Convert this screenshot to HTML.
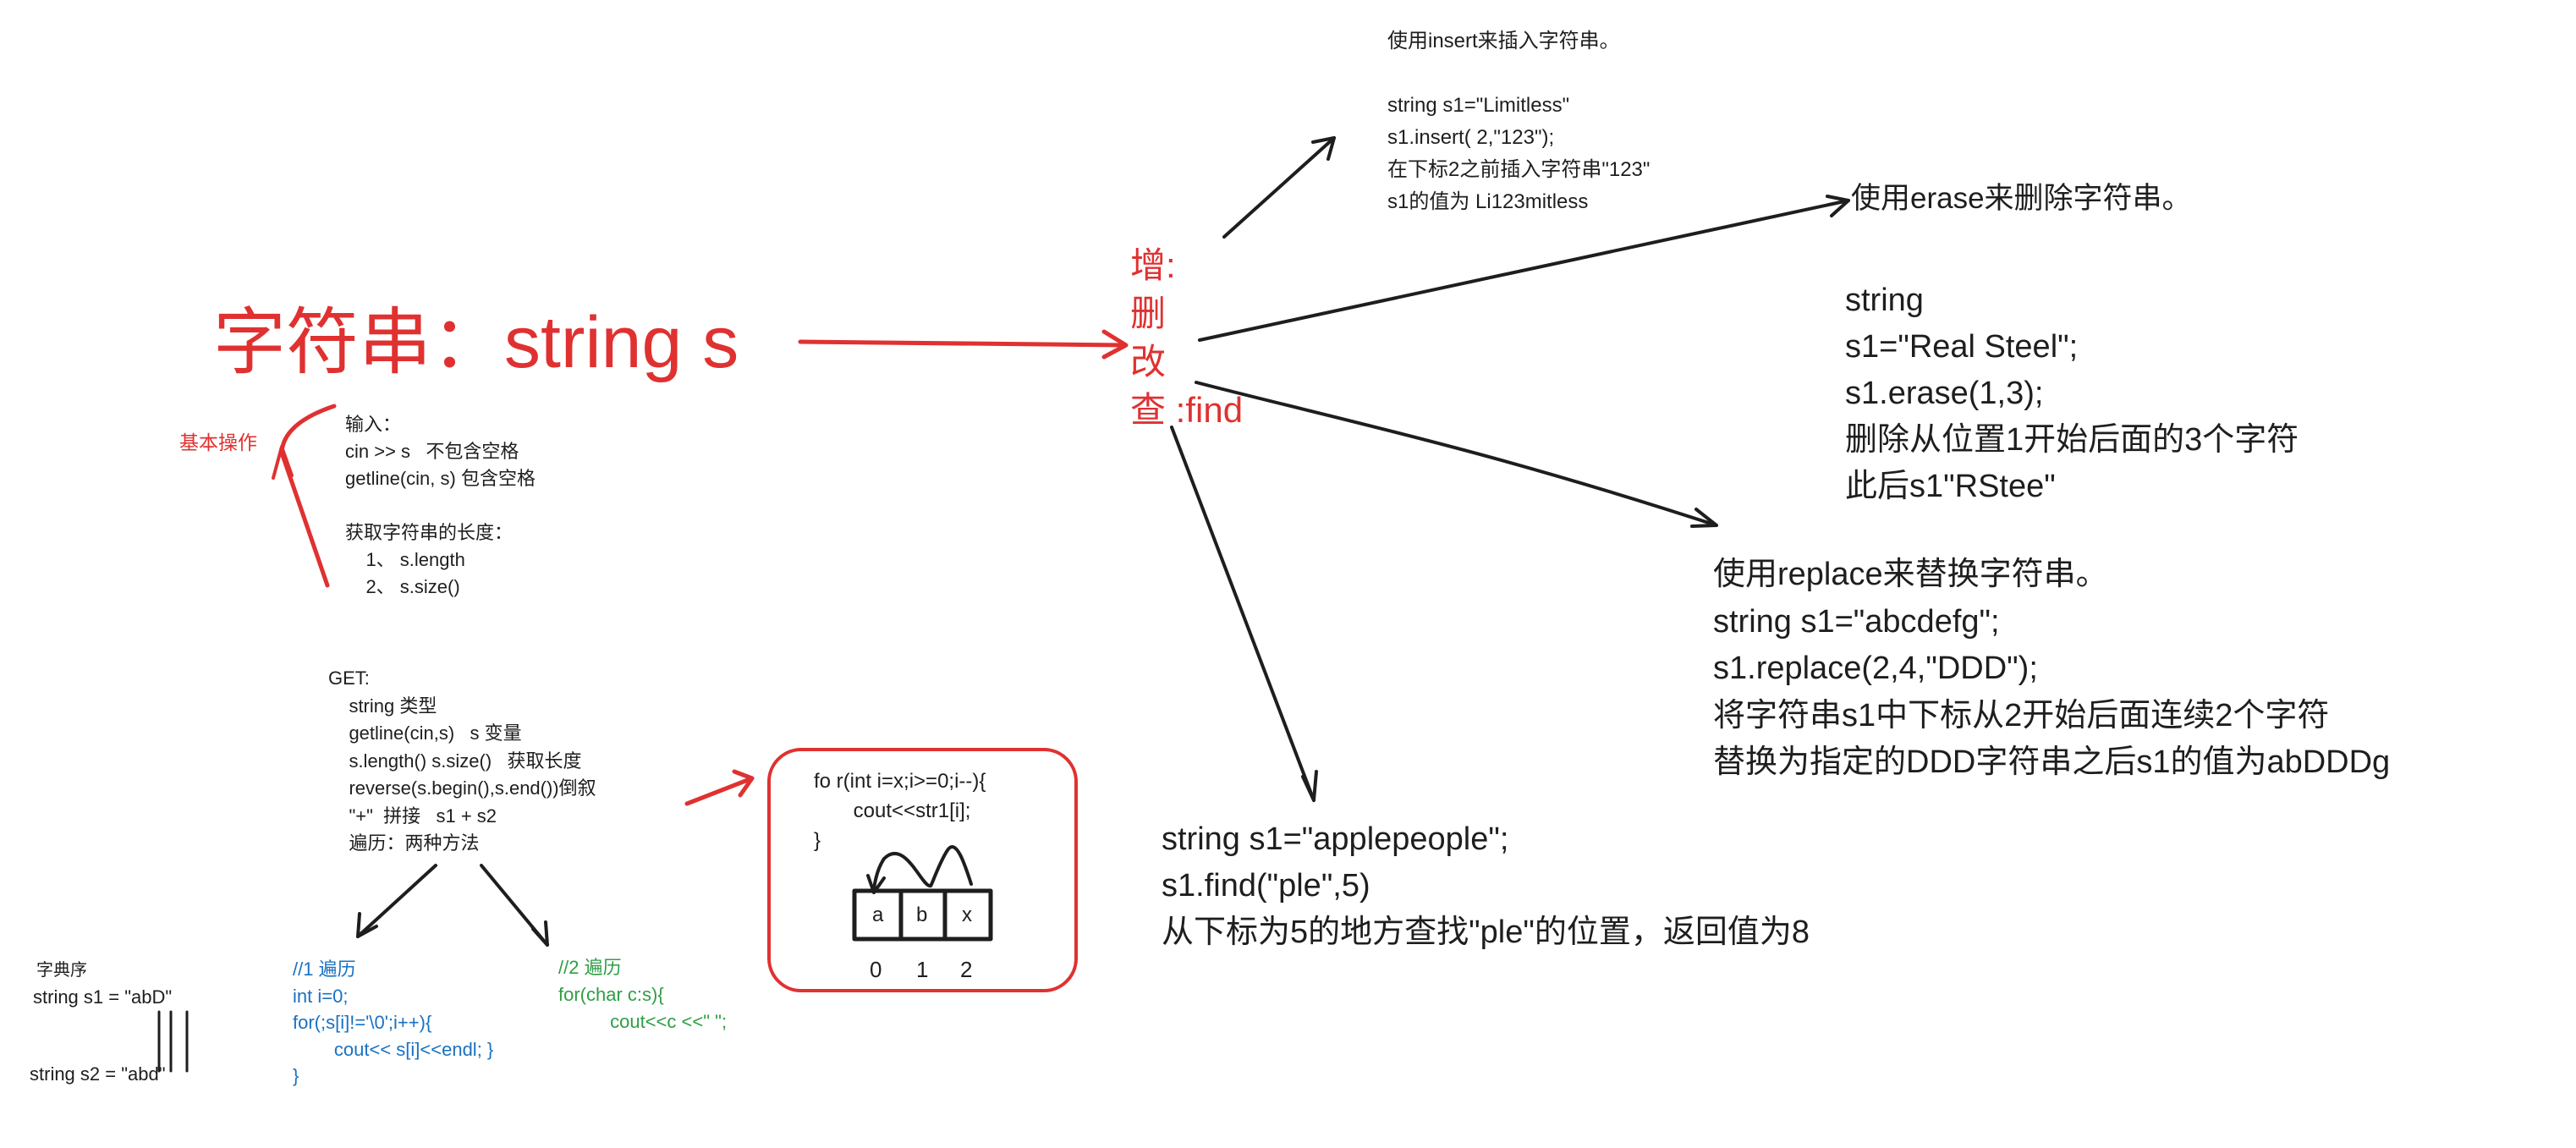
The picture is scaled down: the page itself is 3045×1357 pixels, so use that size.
<!DOCTYPE html>
<html><head><meta charset="utf-8"><style>
html,body{margin:0;padding:0;background:#fff;}
body{width:3045px;height:1357px;position:relative;overflow:hidden;font-family:"Liberation Sans","Noto Sans CJK SC",sans-serif;color:#1e1e1e;}
.t{position:absolute;white-space:pre;line-height:1;}
.r{color:#e03131;}.b{color:#1971c2;}.g{color:#2f9e44;}
</style></head><body>
<svg width="3045" height="1357" style="position:absolute;left:0;top:0" fill="none" stroke-linecap="round" stroke-linejoin="round">
<g stroke="#e03131" stroke-width="5">
<path d="M946 404 L1330 408"/><path d="M1305 392 L1331 408 L1305 422"/>
<path d="M387 692 L333 535 Q335 500 395 480"/><path d="M323 565 L333 528 L345 562" stroke-width="4"/>
<path d="M812 950 L889 920"/><path d="M868 912 L889 920 L875 940"/>
<rect x="909" y="886" width="363" height="285" rx="38" stroke-width="4"/>
</g>
<g stroke="#1e1e1e" stroke-width="4">
<path d="M1447 280 L1577 163"/><path d="M1552 168 L1577 163 L1570 188"/>
<path d="M1418 402 L2185 237"/><path d="M2160 232 L2185 237 L2165 255"/>
<path d="M1414 452 C1600 500 1750 530 2029 621"/><path d="M2005 602 L2029 621 L2000 622"/>
<path d="M1385 505 L1553 946"/><path d="M1540 918 L1553 946 L1556 912"/>
<path d="M515 1023 L423 1107"/><path d="M425 1080 L423 1107 L445 1095"/>
<path d="M569 1023 L647 1117"/><path d="M630 1098 L647 1117 L645 1090"/>
<path d="M188 1196 V1266 M202 1196 V1266 M221 1196 V1266" stroke-width="3"/>
<rect x="1010" y="1053" width="161" height="57" stroke-width="5"/>
<path d="M1065 1053 V1110 M1117 1053 V1110" stroke-width="5"/>
<path d="M1148 1045 C1140 1020 1130 990 1120 1005 C1110 1020 1100 1050 1100 1047 C1090 1050 1070 990 1045 1015 C1035 1030 1033 1050 1033 1055"/>
<path d="M1026 1035 L1033 1055 L1045 1038"/>
</g>
</svg>
<div class="t r" style="left:252px;top:362px;font-size:86px;">字符串：string s</div>
<div class="t r" style="left:1336px;top:285px;font-size:42px;line-height:57px;">增:<br>删<br>改<br>查 :find</div>
<div class="t r" style="left:212px;top:512px;font-size:23px;">基本操作</div>
<div class="t" style="left:408px;top:486px;font-size:22px;line-height:32px;">输入：
cin &gt;&gt; s   不包含空格
getline(cin, s) 包含空格

获取字符串的长度：
    1、 s.length
    2、 s.size()</div>
<div class="t" style="left:388px;top:786px;font-size:22px;line-height:32.5px;">GET:
    string 类型
    getline(cin,s)   s 变量
    s.length() s.size()   获取长度
    reverse(s.begin(),s.end())倒叙
    "+"  拼接   s1 + s2
    遍历：两种方法</div>
<div class="t" style="left:962px;top:906px;font-size:24px;line-height:35px;">fo r(int i=x;i&gt;=0;i--){
       cout&lt;&lt;str1[i];
}</div>
<div class="t" style="left:1031px;top:1070px;font-size:24px;">a</div>
<div class="t" style="left:1083px;top:1070px;font-size:24px;">b</div>
<div class="t" style="left:1137px;top:1070px;font-size:24px;">x</div>
<div class="t" style="left:1028px;top:1133px;font-size:26px;">0</div>
<div class="t" style="left:1083px;top:1133px;font-size:26px;">1</div>
<div class="t" style="left:1135px;top:1133px;font-size:26px;">2</div>
<div class="t b" style="left:346px;top:1130px;font-size:22px;line-height:31.5px;">//1 遍历
int i=0;
for(;s[i]!='\0';i++){
        cout&lt;&lt; s[i]&lt;&lt;endl; }
}</div>
<div class="t g" style="left:660px;top:1128px;font-size:22px;line-height:32px;">//2 遍历
for(char c:s){
          cout&lt;&lt;c &lt;&lt;" ";</div>
<div class="t" style="left:43px;top:1137px;font-size:20px;">字典序</div>
<div class="t" style="left:39px;top:1168px;font-size:22px;">string s1 = "abD"</div>
<div class="t" style="left:35px;top:1259px;font-size:22px;">string s2 = "abd"</div>
<div class="t" style="left:1640px;top:30px;font-size:24px;line-height:38px;">使用insert来插入字符串。

string s1="Limitless"
s1.insert( 2,"123");
在下标2之前插入字符串"123"
s1的值为 Li123mitless</div>
<div class="t" style="left:2188px;top:217px;font-size:35px;">使用erase来删除字符串。</div>
<div class="t" style="left:2181px;top:328px;font-size:38px;line-height:55px;">string
s1="Real Steel";
s1.erase(1,3);
删除从位置1开始后面的3个字符
此后s1"RStee"</div>
<div class="t" style="left:2025px;top:652px;font-size:38px;line-height:55.5px;">使用replace来替换字符串。
string s1="abcdefg";
s1.replace(2,4,"DDD");
将字符串s1中下标从2开始后面连续2个字符
替换为指定的DDD字符串之后s1的值为abDDDg</div>
<div class="t" style="left:1373px;top:965px;font-size:38px;line-height:55px;">string s1="applepeople";
s1.find("ple",5)
从下标为5的地方查找"ple"的位置，返回值为8</div>
</body></html>
